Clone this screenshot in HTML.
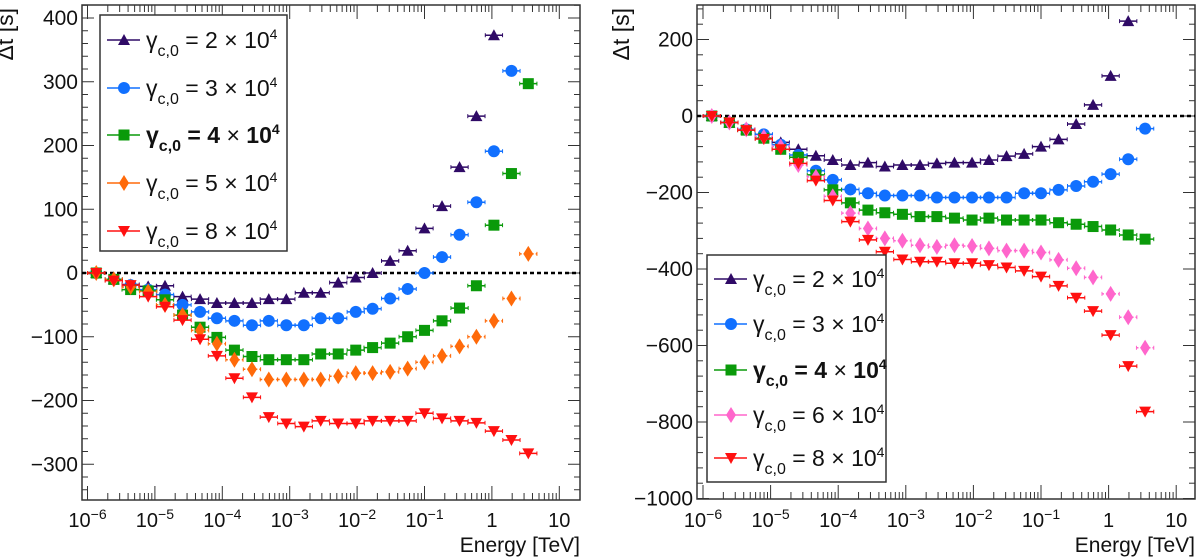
<!DOCTYPE html>
<html><head><meta charset="utf-8"><style>
body{margin:0;background:#fff;}
svg{display:block;font-family:"Liberation Sans","DejaVu Sans",sans-serif;}
</style></head><body>
<svg id="chart" width="1200" height="558" viewBox="0 0 1200 558" xmlns="http://www.w3.org/2000/svg"></svg>
<script>
const logE = [-5.87,-5.61,-5.36,-5.1,-4.85,-4.59,-4.33,-4.08,-3.82,-3.56,-3.31,-3.05,-2.79,-2.54,-2.28,-2.02,-1.77,-1.51,-1.25,-1.0,-0.74,-0.48,-0.23,0.03,0.29,0.54];
const L_g2 = [0,-10,-18,-21,-20,-37,-41,-47,-47,-47,-41,-41,-31,-31,-15,-7,0,19,35,70,105,166,246,373];
const L_g3 = [0,-10,-19,-26,-34,-50,-61,-71,-75,-82,-75,-82,-82,-71,-71,-61,-56,-40,-25,0,25,60,111,191,317];
const L_g4 = [0,-10,-26,-28,-42,-66,-85,-101,-121,-131,-136,-136,-136,-127,-127,-121,-117,-110,-100,-90,-75,-55,-20,75,156,297];
const L_g5 = [0,-10,-22,-29,-50,-66,-90,-111,-136,-151,-167,-167,-167,-167,-162,-157,-157,-155,-150,-140,-130,-115,-100,-75,-40,30];
const L_g8 = [0,-12,-19,-37,-53,-74,-104,-130,-165,-195,-226,-236,-241,-232,-236,-236,-232,-232,-232,-220,-228,-232,-235,-248,-262,-283];
const R_g2 = [0,-17,-35,-48,-69,-87,-104,-115,-128,-122,-132,-128,-128,-124,-122,-122,-115,-105,-99,-80,-61,-21,29,105,248];
const R_g3 = [0,-17,-35,-48,-75,-102,-143,-167,-192,-202,-208,-208,-208,-213,-213,-213,-213,-213,-202,-202,-193,-183,-172,-152,-113,-33];
const R_g4 = [0,-17,-37,-58,-87,-108,-154,-193,-227,-246,-253,-257,-263,-263,-267,-272,-267,-272,-272,-272,-279,-283,-289,-298,-311,-322];
const R_g6 = [0,-17,-35,-55,-80,-128,-159,-210,-254,-294,-320,-326,-338,-342,-338,-340,-346,-352,-352,-357,-376,-398,-422,-465,-526,-606];
const R_g8 = [0,-17,-37,-60,-87,-124,-169,-221,-276,-324,-355,-375,-381,-381,-385,-385,-390,-396,-405,-420,-444,-475,-510,-573,-654,-773];
const L_yticks = [400,300,200,100,0,-100,-200,-300];
const R_yticks = [200,0,-200,-400,-600,-800,-1000];
const xDecades = [-6,-5,-4,-3,-2,-1,0,1];
const xLabels = ["10|-6","10|-5","10|-4","10|-3","10|-2","10|-1","1","10"];
const legendL = ["2","3","4","5","8"];
const legendR = ["2","3","4","6","8"];

const NS="http://www.w3.org/2000/svg";
const svg=document.getElementById('chart');
function mk(tag,attrs,parent){const e=document.createElementNS(NS,tag);for(const k in attrs)e.setAttribute(k,attrs[k]);(parent||svg).appendChild(e);return e;}

const colors={g2:"#2f0a66",g3:"#1170ff",g4:"#0a9a0a",g5:"#ff6a0a",g6:"#ff66cc",g8:"#ff1010"};

function marker(g,type,cx,cy,col){
  let e;
  if(type==="tu") e=mk('polygon',{points:`${cx-6},${cy+5} ${cx+6},${cy+5} ${cx},${cy-6}`,fill:col},g);
  else if(type==="td") e=mk('polygon',{points:`${cx-6},${cy-5} ${cx+6},${cy-5} ${cx},${cy+6}`,fill:col},g);
  else if(type==="c") e=mk('circle',{cx:cx,cy:cy,r:6,fill:col},g);
  else if(type==="s") e=mk('rect',{x:cx-5.5,y:cy-5.5,width:11,height:11,fill:col},g);
  else e=mk('polygon',{points:`${cx},${cy-8} ${cx+5},${cy} ${cx},${cy+8} ${cx-5},${cy}`,fill:col},g);
  return e;
}

function panel(cfg){
  const P=mk('g',{});
  
  
  const X=l=>cfg.x10+(l+6)*cfg.dec;
  const Y=v=>cfg.y0-v*cfg.ys;
  const fr=mk('rect',{x:cfg.L,y:cfg.T,width:cfg.R-cfg.L,height:cfg.B-cfg.T,fill:"none",stroke:"#333",'stroke-width':1.5},P);
  
  
  for(let d=-6;d<=1;d++){
    for(let m=1;m<=9;m++){
      const l=d+Math.log10(m); if(l>1.3)break;
      const x=X(l); if(x<cfg.L||x>cfg.R)continue;
      const len=m===1?14:7;
      mk('line',{x1:x,y1:cfg.B,x2:x,y2:cfg.B-len,stroke:"#333",'stroke-width':1},P);
      mk('line',{x1:x,y1:cfg.T,x2:x,y2:cfg.T+len,stroke:"#333",'stroke-width':1},P);
    }
  }
  for(let v=cfg.ymin;v<=cfg.ymax;v+=cfg.minor){
    const y=Y(v); if(y<cfg.T||y>cfg.B)continue;
    const major=(Math.round(v)%cfg.major===0);
    const len=major?12:6;
    mk('line',{x1:cfg.L,y1:y,x2:cfg.L+len,y2:y,stroke:"#333",'stroke-width':1},P);
    mk('line',{x1:cfg.R,y1:y,x2:cfg.R-len,y2:y,stroke:"#333",'stroke-width':1},P);
  }
  cfg.yticks.forEach(v=>{
    const t=mk('text',{x:cfg.L-4,y:Y(v)+7,'text-anchor':'end','font-size':21,fill:"#111"},P);
    t.textContent=v<0?"\u2212"+(-v):String(v);
    
    
  });
  xDecades.forEach((d,i)=>{
    const parts=xLabels[i].split('|');
    const t=mk('text',{x:X(d),y:527,'text-anchor':'middle','font-size':20,fill:"#111"},P);
    t.textContent=parts[0];
    if(parts[1]){const s=mk('tspan',{dy:-8,'font-size':14},t);s.textContent=parts[1].replace('-','\u2212');}
    
    
  });
  const xt=mk('text',{x:cfg.R,y:552,'text-anchor':'end','font-size':21,fill:"#111"},P);
  xt.textContent="Energy [TeV]";
  
  
  const yt=mk('text',{x:0,y:0,'text-anchor':'end','font-size':23,fill:"#111",transform:`translate(${cfg.ytx},${cfg.T+3}) rotate(-90)`},P);
  yt.textContent="\u0394t [s]";
  
  
  const z=mk('line',{x1:cfg.L,y1:Y(0),x2:cfg.R,y2:Y(0),stroke:"#000",'stroke-width':2.5,'stroke-dasharray':"4 3"},P);
  
  
  const half=0.128*cfg.dec;
  cfg.series.forEach(s=>{
    const g=mk('g',{},P);
    
    
    s.vals.forEach((v,i)=>{
      const cx=X(logE[i]),cy=Y(v);
      const eb=mk('line',{x1:cx-half,y1:cy,x2:cx+half,y2:cy,stroke:s.col,'stroke-width':1.5},g);
      if(s.dot)eb.setAttribute('stroke-dasharray','2 2');
      mk('line',{x1:cx-half,y1:cy-2,x2:cx-half,y2:cy+2,stroke:s.col,'stroke-width':1},g);
      mk('line',{x1:cx+half,y1:cy-2,x2:cx+half,y2:cy+2,stroke:s.col,'stroke-width':1},g);
      const m=marker(g,s.m,cx,cy,s.col);
      
      
    });
  });
  const lg=cfg.leg;
  const LG=mk('g',{},P);
  
  
  mk('rect',{x:lg.x,y:lg.y,width:lg.w,height:lg.h,fill:"#fff",stroke:"#333",'stroke-width':1.5},LG);
  cfg.series.forEach((s,i)=>{
    const cy=lg.rows[i];
    const e=mk('g',{},LG);
    
    
    mk('line',{x1:lg.x+7,y1:cy,x2:lg.x+40,y2:cy,stroke:s.col,'stroke-width':1.5},e);
    marker(e,s.m,lg.x+24,cy,s.col);
    const bold=s.label==="4";
    const t=mk('text',{x:lg.x+46,y:cy+8,'font-size':23,fill:"#111",'font-weight':bold?'bold':'normal'},e);
    const a=mk('tspan',{},t);a.textContent="\u03b3";
    const b=mk('tspan',{dy:8,'font-size':16},t);b.textContent="c,0";
    const c=mk('tspan',{dy:-8},t);c.textContent=" = "+s.label+" ";
    const d=mk('tspan',{'font-weight':'normal'},t);d.textContent="\u00d7";
    const f=mk('tspan',{},t);f.textContent=" 10";
    const h=mk('tspan',{dy:-9,'font-size':14},t);h.textContent="4";
  });
}

panel({name:'left-panel',L:82,R:580,T:5,B:500,x10:87.5,dec:67.4,y0:273,ys:0.6375,ymin:-340,ymax:420,minor:20,major:100,yticks:L_yticks,ytx:13,
  series:[{key:'g2',vals:L_g2,col:colors.g2,m:'tu',label:legendL[0]},{key:'g3',vals:L_g3,col:colors.g3,m:'c',label:legendL[1]},{key:'g4',vals:L_g4,col:colors.g4,m:'s',label:legendL[2]},{key:'g5',vals:L_g5,col:colors.g5,m:'d',dot:true,label:legendL[3]},{key:'g8',vals:L_g8,col:colors.g8,m:'td',label:legendL[4]}],
  leg:{x:100,y:15,w:187,h:236,rows:[40,88,135,183,231]}});
panel({name:'right-panel',L:697,R:1195,T:5,B:499,x10:703,dec:67.6,y0:116,ys:0.3825,ymin:-1000,ymax:280,minor:40,major:200,yticks:R_yticks,ytx:629,
  series:[{key:'g2',vals:R_g2,col:colors.g2,m:'tu',label:legendR[0]},{key:'g3',vals:R_g3,col:colors.g3,m:'c',label:legendR[1]},{key:'g4',vals:R_g4,col:colors.g4,m:'s',label:legendR[2]},{key:'g6',vals:R_g6,col:colors.g6,m:'d',dot:true,label:legendR[3]},{key:'g8',vals:R_g8,col:colors.g8,m:'td',label:legendR[4]}],
  leg:{x:707,y:255,w:179,h:227,rows:[279,324,370,415,458]}});
</script>
</body></html>
